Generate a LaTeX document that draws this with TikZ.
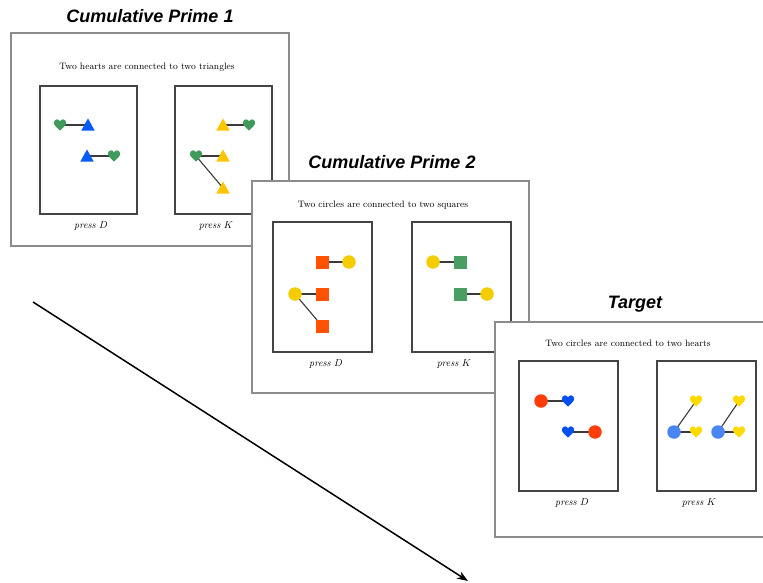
\documentclass[tikz,border=0pt]{standalone}
\usepackage{fontspec}
\newfontfamily\titlefont{Liberation Sans}
\usetikzlibrary{arrows.meta}
\definecolor{hgreen}{HTML}{3F9A5C}
\definecolor{tblue}{HTML}{0A5AF5}
\definecolor{tyellow}{HTML}{FFC600}
\definecolor{sorange}{HTML}{FF5205}
\definecolor{cyellow}{HTML}{F3CD00}
\definecolor{sgreen}{HTML}{4A9E63}
\definecolor{cred}{HTML}{FF3D0A}
\definecolor{hblue}{HTML}{0050F0}
\definecolor{cblue}{HTML}{4A85F4}
\definecolor{hyellow}{HTML}{FFDA00}
\definecolor{framegray}{HTML}{8C8C8C}
\definecolor{panelgray}{HTML}{444444}
\definecolor{linkgray}{HTML}{3A3A3A}
\tikzset{
  frame/.style={draw=framegray, line width=2pt, fill=white},
  panel/.style={draw=panelgray, line width=1.3pt},
  ttl/.style={anchor=base, inner sep=0pt, font=\titlefont\bfseries\itshape\fontsize{18}{21}\selectfont},
  sub/.style={anchor=base, inner sep=0pt, font=\fontsize{9.3}{11}\selectfont},
  lab/.style={anchor=base, inner sep=0pt, font=\fontsize{10}{12}\selectfont},
  link/.style={draw=linkgray, line width=1.1pt},
  heartshape/.style={rectangle, minimum size=15pt, inner sep=0pt,
    path picture={\fill[#1, shift={(path picture bounding box.center)}, scale=1.08]
      (0,5.5) .. controls (-2,3.5) and (-6.2,0.5) .. (-6.2,-2.2)
      .. controls (-6.2,-4.6) and (-4.3,-5.6) .. (-3,-5.6)
      .. controls (-1.6,-5.6) and (-0.5,-4.8) .. (0,-3.6)
      .. controls (0.5,-4.8) and (1.6,-5.6) .. (3,-5.6)
      .. controls (4.3,-5.6) and (6.2,-4.6) .. (6.2,-2.2)
      .. controls (6.2,0.5) and (2,3.5) .. (0,5.5) -- cycle;}},
  trishape/.style={rectangle, minimum size=15pt, inner sep=0pt,
    path picture={\fill[#1, shift={(path picture bounding box.center)}]
      (-6.7,5.6) -- (6.7,5.6) -- (0,-6.6) -- cycle;}},
  circshape/.style={circle, fill=#1, minimum size=13.5pt, inner sep=0pt},
  sqshape/.style={rectangle, fill=#1, minimum size=13pt, inner sep=0pt},
}
\begin{document}
\begin{tikzpicture}[x=1pt, y=-1pt]
\useasboundingbox (0,0) rectangle (763,583);
\clip (0,0) rectangle (763,583);

% arrow
\coordinate (as) at (33,302);
\coordinate (ae) at (468,581);
\draw[line width=1.5pt, -{Stealth[length=11pt, width=8pt]}] (as) -- (ae);

% ---------- Frame 1 ----------
\node[ttl] (t1) at (150,23) {Cumulative Prime 1};
\path[frame] (11,33) rectangle (289,246);
\node[sub] (s1) at (147,70) {Two hearts are connected to two triangles};
\draw[panel] (40,86) rectangle (137,214);
\draw[panel] (175,86) rectangle (272,214);
\node[lab] (d1) at (91,228) {\textit{press} $D$};
\node[lab] (k1) at (216,228) {\textit{press} $K$};
\coordinate (a1) at (60,125);  \coordinate (a2) at (88,125);
\coordinate (a3) at (87,156);  \coordinate (a4) at (114,156);
\coordinate (a5) at (223,125); \coordinate (a6) at (249,125);
\coordinate (a7) at (196,156); \coordinate (a8) at (223,156);
\coordinate (a9) at (223,188);
\draw[link] (a1) -- (a2);
\draw[link] (a3) -- (a4);
\draw[link] (a5) -- (a6);
\draw[link] (a7) -- (a8);
\draw[link] (a7) -- (a9);
\node[heartshape=hgreen] (n1) at (a1) {};
\node[trishape=tblue] (n2) at (a2) {};
\node[trishape=tblue] (n3) at (a3) {};
\node[heartshape=hgreen] (n4) at (a4) {};
\node[trishape=tyellow] (n5) at (a5) {};
\node[heartshape=hgreen] (n6) at (a6) {};
\node[heartshape=hgreen] (n7) at (a7) {};
\node[trishape=tyellow] (n8) at (a8) {};
\node[trishape=tyellow] (n9) at (a9) {};

% ---------- Frame 2 ----------
\node[ttl] (t2) at (392,168) {Cumulative Prime 2};
\path[frame] (252,181) rectangle (529,393);
\node[sub] (s2) at (383,207) {Two circles are connected to two squares};
\draw[panel] (273,222) rectangle (372,352);
\draw[panel] (412,222) rectangle (511,352);
\node[lab] (d2) at (326,366) {\textit{press} $D$};
\node[lab] (k2) at (454,366) {\textit{press} $K$};
\coordinate (b1) at (322,262); \coordinate (b2) at (349,262);
\coordinate (b3) at (295,294); \coordinate (b4) at (322,294);
\coordinate (b5) at (322,326);
\coordinate (b6) at (433,262); \coordinate (b7) at (460,262);
\coordinate (b8) at (460,294); \coordinate (b9) at (487,294);
\draw[link] (b1) -- (b2);
\draw[link] (b3) -- (b4);
\draw[link] (b3) -- (b5);
\draw[link] (b6) -- (b7);
\draw[link] (b8) -- (b9);
\node[sqshape=sorange] (m1) at (b1) {};
\node[circshape=cyellow] (m2) at (b2) {};
\node[circshape=cyellow] (m3) at (b3) {};
\node[sqshape=sorange] (m4) at (b4) {};
\node[sqshape=sorange] (m5) at (b5) {};
\node[circshape=cyellow] (m6) at (b6) {};
\node[sqshape=sgreen] (m7) at (b7) {};
\node[sqshape=sgreen] (m8) at (b8) {};
\node[circshape=cyellow] (m9) at (b9) {};

% ---------- Frame 3 ----------
\node[ttl] (t3) at (635,308) {Target};
\path[frame] (495,322) rectangle (780,537);
\node[sub] (s3) at (628,346) {Two circles are connected to two hearts};
\draw[panel] (519,361) rectangle (618,491);
\draw[panel] (657,361) rectangle (756,491);
\node[lab] (d3) at (572,505) {\textit{press} $D$};
\node[lab] (k3) at (699,505) {\textit{press} $K$};
\coordinate (c1) at (541,401); \coordinate (c2) at (568,401);
\coordinate (c3) at (568,432); \coordinate (c4) at (595,432);
\coordinate (c5) at (696,401); \coordinate (c6) at (739,401);
\coordinate (c7) at (674,432); \coordinate (c8) at (696,432);
\coordinate (c9) at (718,432); \coordinate (c10) at (739,432);
\draw[link] (c1) -- (c2);
\draw[link] (c3) -- (c4);
\draw[link] (c7) -- (c5);
\draw[link] (c7) -- (c8);
\draw[link] (c9) -- (c6);
\draw[link] (c9) -- (c10);
\node[circshape=cred] (p1) at (c1) {};
\node[heartshape=hblue] (p2) at (c2) {};
\node[heartshape=hblue] (p3) at (c3) {};
\node[circshape=cred] (p4) at (c4) {};
\node[heartshape=hyellow] (p5) at (c5) {};
\node[heartshape=hyellow] (p6) at (c6) {};
\node[circshape=cblue] (p7) at (c7) {};
\node[heartshape=hyellow] (p8) at (c8) {};
\node[circshape=cblue] (p9) at (c9) {};
\node[heartshape=hyellow] (p10) at (c10) {};
\end{tikzpicture}
\end{document}
